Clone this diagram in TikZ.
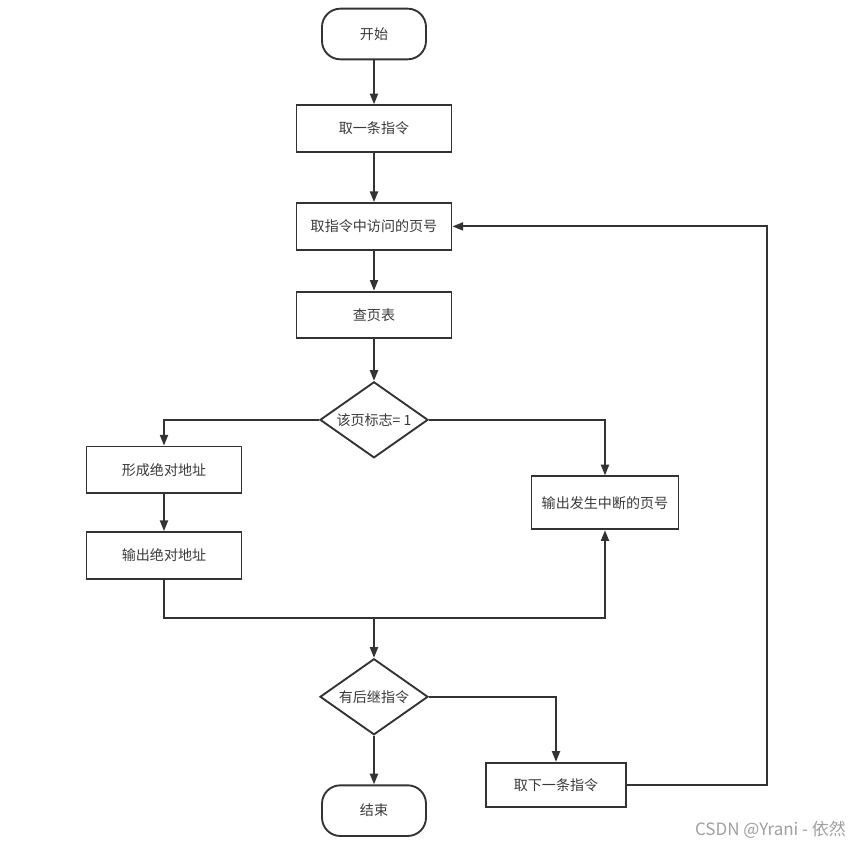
\documentclass[tikz,border=0pt]{standalone}
\usepackage{fontspec}
\setmainfont{Noto Sans CJK SC}
\usepackage{tikz}
\usetikzlibrary{arrows.meta,positioning,shapes.geometric}
\definecolor{flowline}{HTML}{333333}
\definecolor{flowtext}{HTML}{3A3A3A}
\definecolor{wmgray}{HTML}{A0A0A0}
\tikzset{
  procbox/.style={
    draw=flowline,
    fill=white,
    text=flowtext,
    line width=1.6pt,
    align=center,
    minimum width=4.65cm,
    minimum height=1.4cm,
    inner sep=3pt,
    font=\fontsize{12}{14}\selectfont
  },
  termbox/.style={
    procbox,
    rounded corners=0.55cm,
    minimum width=3.12cm,
    minimum height=1.52cm
  },
  decision/.style={
    procbox,
    diamond,
    aspect=1.42,
    inner sep=0pt,
    minimum width=3.24cm,
    minimum height=2.28cm
  },
  flowedge/.style={line width=1.6pt, draw=flowline},
  arrow/.style={flowedge, -{Triangle[length=0.32cm,width=0.24cm]}},
  wmtext/.style={text=wmgray, font=\fontsize{14.5}{16}\selectfont, anchor=east}
}
\begin{document}
\begin{tikzpicture}[node distance=1.3cm and 1.3cm]
  \useasboundingbox[fill=white] (0,0) rectangle (25.95,-25.47);
  \node[termbox] (start) at (11.22,-1.02) {开始};
  \node[procbox, below=1.32cm of start] (fetch) {取一条指令};
  \node[procbox, below=1.48cm of fetch] (page) {取指令中访问的页号};
  \node[procbox, below=1.2cm of page] (table) {查页表};
  \node[decision, below=1.25cm of table] (flag) {该页标志= 1};
  \node[procbox] (form) at ([shift={(-6.3,-1.5)}]flag) {形成绝对地址};
  \node[procbox, below=1.11cm of form] (absout) {输出绝对地址};
  \node[procbox, minimum width=4.41cm, minimum height=1.59cm] (intr) at ([shift={(6.93,-2.49)}]flag) {输出发生中断的页号};
  \coordinate (merge) at ([yshift=-5.94cm]flag);
  \node[decision, below=1.2cm of merge] (more) {有后继指令};
  \node[termbox, below=1.46cm of more] (finish) {结束};
  \node[procbox, minimum width=4.2cm, minimum height=1.32cm] (next) at ([shift={(5.46,-2.64)}]more) {取下一条指令};
  \coordinate (loopx) at (23.01,0);
  \draw[arrow] (start) -- (fetch);
  \draw[arrow] (fetch) -- (page);
  \draw[arrow] (page) -- (table);
  \draw[arrow] (table) -- (flag);
  \draw[arrow] (flag.west) -| (form.north);
  \draw[arrow] (flag.east) -| (intr.north);
  \draw[arrow] (form) -- (absout);
  \draw[arrow] (absout.south) |- (intr.south |- merge) -- (intr.south);
  \draw[arrow] (merge) -- (more.north);
  \draw[arrow] (more.east) -| (next.north);
  \draw[arrow] (more.south) -- (finish.north);
  \draw[arrow] (next.east) -| (loopx |- page.east) -- (page.east);
  \node[wmtext] (credit) at (25.5,-24.9) {CSDN @Yrani - 依然};
\end{tikzpicture}
\end{document}
